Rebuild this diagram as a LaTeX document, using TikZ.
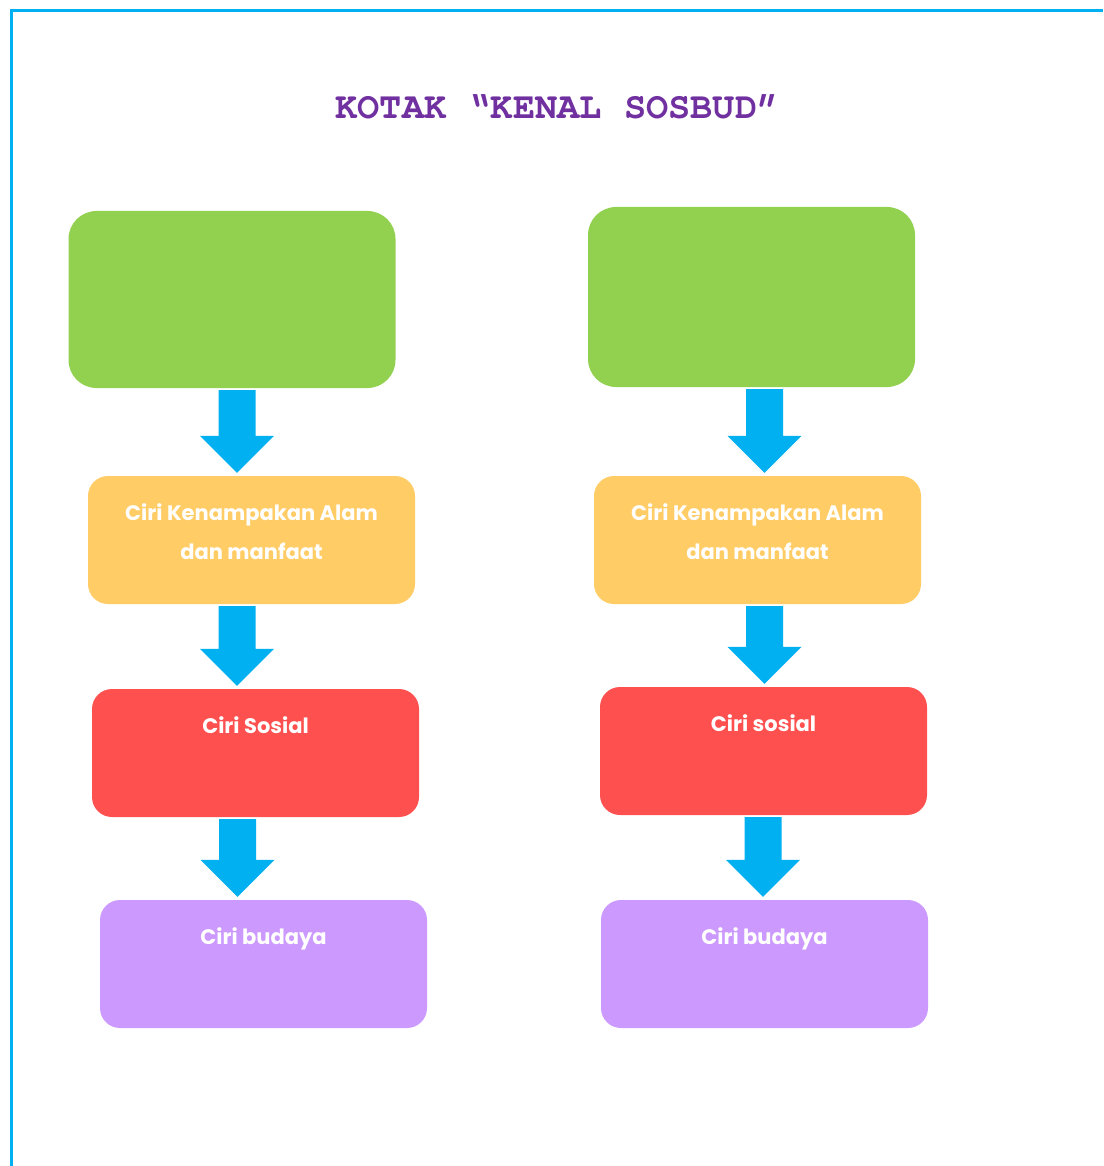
\documentclass[tikz,border=0pt]{standalone}
\usepackage{fontspec}
\usepackage{tikz}
\usetikzlibrary{calc,positioning}
\newfontfamily\titlefont{TeX Gyre Cursor}
\newfontfamily\cirifont{Poppins}
\definecolor{framecol}{RGB}{0, 176, 240}
\definecolor{arrowcol}{RGB}{0, 176, 240}
\definecolor{titlecol}{RGB}{112, 48, 160}
\definecolor{leaf}{RGB}{146, 208, 80}
\definecolor{sand}{RGB}{255, 204, 102}
\definecolor{coral}{RGB}{255, 80, 80}
\definecolor{lilac}{RGB}{204, 153, 255}
\tikzstyle{greenbox} = [rectangle, draw=none, fill=leaf, rounded corners=28pt, minimum width=327pt, minimum height=177pt, inner sep=0pt]
\tikzstyle{ciribox} = [rectangle, draw=none, rounded corners=20pt, minimum width=327pt, minimum height=128pt, inner sep=0pt]
\tikzstyle{ciritext} = [text=white, inner sep=0pt, align=center, font=\cirifont\bfseries\fontsize{21}{39}\selectfont]
\tikzstyle{titletext} = [text=titlecol, inner sep=0pt, anchor=base, font=\titlefont\bfseries\fontsize{37}{40}\selectfont]
% block arrow from #1 down to #2 at x = #3
\newcommand{\flowarrow}[3]{%
  \coordinate (s) at ([yshift=-2pt]#3,0 |- #1.south);
  \coordinate (t) at ([yshift=3pt]#3,0 |- #2.north);
  \fill[arrowcol] ($(s)+(-18.5,0)$) -- ($(s)+(18.5,0)$) -- ($(t)+(18.5,-37)$)
    -- ($(t)+(37,-37)$) -- (t) -- ($(t)+(-37,-37)$) -- ($(t)+(-18.5,-37)$) -- cycle;
}

\begin{document}
\begin{tikzpicture}[x=1pt, y=-1pt]
\useasboundingbox (0,0) rectangle (1103,1166);

% frame
\draw[framecol, line width=2.5pt] (11.5,1166) |- (1103,10.3);

% title
\node[titletext] (title) at (557.5,119) {KOTAK “KENAL SOSBUD”};

% left column =============================
\node[greenbox] (gl) at (232,299.5) {};
\node[ciribox, fill=sand] (al) at (251.5,540) {};
\node[ciribox, fill=coral] (sl) at (255.5,753) {};
\node[ciribox, fill=lilac] (bl) at (263.5,964) {};

\node[ciritext, below=28pt of al.north] (al-text) {Ciri Kenampakan Alam\\dan manfaat};
\node[ciritext, below=28pt of sl.north] (sl-text) {Ciri Sosial};
\node[ciritext, below=28pt of bl.north] (bl-text) {Ciri budaya};

% right column =============================
\node[greenbox, minimum height=180pt] (gr) at (751.5,297) {};
\node[ciribox, fill=sand] (ar) at (757.5,540) {};
\node[ciribox, fill=coral] (sr) at (763.5,751) {};
\node[ciribox, fill=lilac] (br) at (764.5,964) {};

\node[ciritext, below=28pt of ar.north] (ar-text) {Ciri Kenampakan Alam\\dan manfaat};
\node[ciritext, below=28pt of sr.north] (sr-text) {Ciri sosial};
\node[ciritext, below=28pt of br.north] (br-text) {Ciri budaya};

% arrows
\flowarrow{gl}{al}{237}
\flowarrow{al}{sl}{237}
\flowarrow{sl}{bl}{237.5}
\flowarrow{gr}{ar}{764.5}
\flowarrow{ar}{sr}{764.5}
\flowarrow{sr}{br}{763}

\end{tikzpicture}
\end{document}
